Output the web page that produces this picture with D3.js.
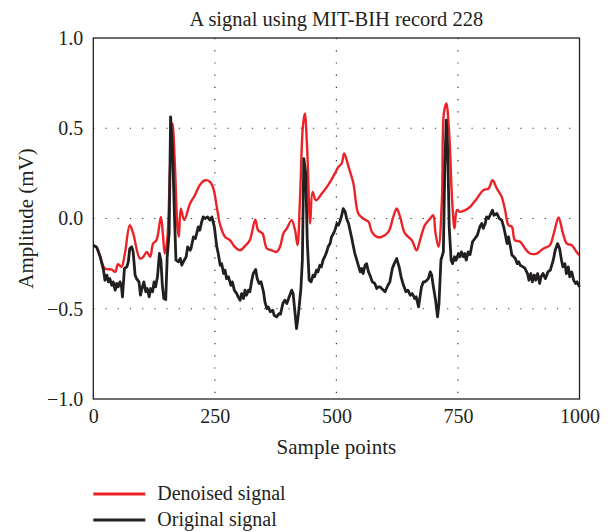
<!DOCTYPE html>
<html>
<head>
<meta charset="utf-8">
<script src="https://cdn.jsdelivr.net/npm/d3@7"></script>
<style>
  body { margin: 0; background: #fff; }
  text { font-family: "Liberation Serif", "DejaVu Serif", serif; fill: #231f20; }
</style>
</head>
<body>
<div id="chart"></div>
<script>
// sample index / amplitude (mV)
const denoisedX = [0,7,14,24,38,45,51,58,65,75,82,96,103,110,117,123,130,139,143,147,152,158,163,168,173,176,180,187,199,209,219,230,240,247,254,261,271,281,291,302,312,322,333,339,348,357,367,377,384,391,398,408,415,420,425,431,435,440,446,451,458,470,483,495,504,511,516,525,535,545,555,566,573,583,593,607,617,624,631,641,655,665,672,682,693,699,704,710,717,721,726,732,738,743,748,754,765,775,789,802,813,821,830,840,847,854,861,867,878,888,898,912,926,939,948,957,966,974,984,994,1000];
const denoisedY = [-0.148,-0.16,-0.21,-0.277,-0.283,-0.296,-0.253,-0.268,-0.194,-0.037,-0.083,-0.222,-0.212,-0.185,-0.212,-0.139,-0.12,0.009,-0.083,-0.194,-0.12,0.286,0.526,0.286,-0.046,-0.102,0.055,-0.009,0.083,0.129,0.185,0.212,0.203,0.166,0.064,-0.037,-0.102,-0.12,-0.157,-0.176,-0.153,-0.12,-0.006,-0.065,-0.083,-0.166,-0.176,-0.185,-0.157,-0.083,-0.055,-0.009,-0.065,-0.148,0.101,0.508,0.582,0.378,-0.028,0.147,0.101,0.138,0.185,0.24,0.286,0.305,0.36,0.286,0.194,0.028,0,-0.018,-0.074,-0.102,-0.102,-0.074,0.009,0.055,0.009,-0.083,-0.12,-0.176,-0.12,-0.037,0,0.018,-0.083,-0.157,0.101,0.582,0.637,0.471,0.101,-0.055,0.046,0.037,0.046,0.065,0.111,0.157,0.166,0.212,0.166,0.12,0.046,-0.037,-0.046,-0.12,-0.129,-0.166,-0.194,-0.194,-0.166,-0.148,-0.074,0.006,-0.083,-0.139,-0.148,-0.185,-0.203];

const originalX = [0,7,14,21,24,28,31,34,38,41,45,48,51,55,58,60,64,69,72,75,79,82,86,89,94,97,101,104,108,111,115,118,122,125,128,132,136,139,142,145,149,152,156,159,163,167,170,175,179,182,187,191,194,199,201,206,210,216,219,223,226,230,235,240,244,249,254,257,261,264,268,271,274,278,283,286,290,295,298,302,305,309,312,315,319,322,326,329,334,337,341,345,350,353,357,360,364,369,372,377,382,385,390,394,398,403,408,411,415,418,422,427,430,433,437,440,444,448,452,455,459,462,466,469,473,476,480,483,487,490,494,497,501,504,507,511,514,518,521,525,528,531,535,538,542,549,552,555,559,562,566,569,574,579,583,586,590,593,600,606,610,615,619,624,629,633,638,643,647,652,656,661,664,669,672,675,679,682,686,689,693,696,699,704,708,711,715,720,723,726,729,732,736,739,743,746,751,754,757,761,764,767,771,775,780,785,790,795,799,802,806,809,813,816,821,824,830,835,840,844,847,851,854,858,861,865,868,872,875,878,884,888,893,896,900,903,907,910,914,918,921,925,930,935,940,946,950,955,959,963,966,970,973,977,980,984,988,992,995,1000];
const originalY = [-0.148,-0.16,-0.21,-0.286,-0.342,-0.314,-0.351,-0.333,-0.37,-0.351,-0.397,-0.36,-0.379,-0.351,-0.379,-0.434,-0.277,-0.268,-0.24,-0.166,-0.157,-0.185,-0.314,-0.333,-0.351,-0.425,-0.379,-0.351,-0.406,-0.388,-0.434,-0.388,-0.406,-0.351,-0.379,-0.323,-0.194,-0.231,-0.37,-0.443,-0.449,-0.212,-0.083,0.563,0.378,0.009,-0.231,-0.24,-0.222,-0.259,-0.231,-0.212,-0.157,-0.176,-0.166,-0.102,-0.111,-0.046,-0.065,-0.018,0.009,0,0.009,-0.009,0.009,-0.046,-0.157,-0.194,-0.259,-0.25,-0.305,-0.286,-0.333,-0.323,-0.37,-0.351,-0.397,-0.416,-0.434,-0.453,-0.416,-0.443,-0.397,-0.425,-0.397,-0.406,-0.342,-0.305,-0.282,-0.333,-0.36,-0.351,-0.406,-0.462,-0.499,-0.49,-0.517,-0.508,-0.536,-0.545,-0.527,-0.53,-0.47,-0.453,-0.471,-0.434,-0.397,-0.416,-0.527,-0.61,-0.527,-0.388,-0.231,0.332,0.249,-0.12,-0.342,-0.351,-0.314,-0.323,-0.286,-0.296,-0.259,-0.268,-0.227,-0.212,-0.185,-0.157,-0.139,-0.102,-0.083,-0.065,-0.028,-0.037,-0.018,0.018,0.055,0.037,0,-0.028,-0.065,-0.102,-0.157,-0.194,-0.231,-0.296,-0.277,-0.305,-0.259,-0.25,-0.296,-0.314,-0.351,-0.36,-0.388,-0.379,-0.379,-0.388,-0.406,-0.37,-0.351,-0.277,-0.25,-0.222,-0.268,-0.323,-0.37,-0.406,-0.397,-0.425,-0.416,-0.443,-0.434,-0.49,-0.434,-0.379,-0.351,-0.351,-0.342,-0.333,-0.296,-0.314,-0.37,-0.453,-0.545,-0.471,-0.231,-0.185,0.286,0.545,0.378,-0.046,-0.231,-0.25,-0.212,-0.231,-0.194,-0.212,-0.185,-0.212,-0.194,-0.231,-0.185,-0.2,-0.129,-0.111,-0.092,-0.046,-0.028,-0.055,-0.028,0.009,0,0.018,0.046,0.018,0.028,0,-0.009,-0.046,-0.083,-0.139,-0.102,-0.157,-0.203,-0.212,-0.222,-0.25,-0.24,-0.259,-0.268,-0.277,-0.305,-0.342,-0.305,-0.351,-0.314,-0.342,-0.305,-0.36,-0.323,-0.305,-0.333,-0.296,-0.286,-0.231,-0.176,-0.139,-0.166,-0.231,-0.268,-0.25,-0.305,-0.268,-0.323,-0.296,-0.342,-0.36,-0.351,-0.379];

const xTicks = [0, 250, 500, 750, 1000];
const yTicks = [-1.0, -0.5, 0.0, 0.5, 1.0];
const seriesNames = ["Denoised signal", "Original signal"];
const seriesColors = ["#ec2227", "#231f20"];

const width = 610, height = 532;
const margin = {top: 38, right: 30.5, bottom: 133, left: 93.3};
const w = width - margin.left - margin.right;
const h = height - margin.top - margin.bottom;

const svg = d3.select("#chart").append("svg")
    .attr("width", width)
    .attr("height", height);

const g = svg.append("g")
    .attr("transform", `translate(${margin.left},${margin.top})`);

const x = d3.scaleLinear().domain([0, 1000]).range([0, w]);
const y = d3.scaleLinear().domain([-1, 1]).range([h, 0]);

// dotted grid
g.selectAll("line.vgrid")
    .data(xTicks.slice(1, -1))
    .join("line")
    .attr("x1", d => x(d)).attr("x2", d => x(d))
    .attr("y1", 0).attr("y2", h)
    .attr("stroke", "#333")
    .attr("stroke-width", 1.2)
    .attr("stroke-dasharray", "1.2,11");

g.selectAll("line.hgrid")
    .data(yTicks.slice(1, -1))
    .join("line")
    .attr("x1", 0).attr("x2", w)
    .attr("y1", d => y(d)).attr("y2", d => y(d))
    .attr("stroke", "#333")
    .attr("stroke-width", 1.2)
    .attr("stroke-dasharray", "1.2,11");

const fmtY = d => d3.format(".1f")(d).replace("-", "\u2212");

g.append("g")
    .attr("transform", `translate(0,${h})`)
    .call(d3.axisBottom(x).tickValues(xTicks).tickFormat(d3.format("d")).tickSize(0).tickPadding(10))
    .call(a => a.select(".domain").remove())
    .selectAll("text")
    .style("font-size", "20px")
    .style("font-family", "Liberation Serif, serif")
    .attr("fill", "#231f20");

g.append("g")
    .call(d3.axisLeft(y).tickValues(yTicks).tickFormat(fmtY).tickSize(0).tickPadding(10))
    .call(a => a.select(".domain").remove())
    .selectAll("text")
    .style("font-size", "20px")
    .style("font-family", "Liberation Serif, serif")
    .attr("fill", "#231f20");

const denoised = denoisedX.map((d, i) => [d, denoisedY[i]]);
const original = originalX.map((d, i) => [d, originalY[i]]);

g.append("path")
    .datum(denoised)
    .attr("fill", "none")
    .attr("stroke", seriesColors[0])
    .attr("stroke-width", 2.4)
    .attr("stroke-linejoin", "round")
    .attr("d", d3.line().x(d => x(d[0])).y(d => y(d[1])).curve(d3.curveCatmullRom.alpha(0.5)));

g.append("path")
    .datum(original)
    .attr("fill", "none")
    .attr("stroke", seriesColors[1])
    .attr("stroke-width", 2.8)
    .attr("stroke-linejoin", "round")
    .attr("d", d3.line().x(d => x(d[0])).y(d => y(d[1])));

// frame
g.append("rect")
    .attr("width", w).attr("height", h)
    .attr("fill", "none")
    .attr("stroke", "#231f20")
    .attr("stroke-width", 1.3);

svg.append("text")
    .attr("x", margin.left + w / 2)
    .attr("y", 26)
    .attr("text-anchor", "middle")
    .style("font-size", "20.5px")
    .text("A signal using MIT-BIH record 228");

svg.append("text")
    .attr("x", margin.left + w / 2)
    .attr("y", height - margin.bottom + 55)
    .attr("text-anchor", "middle")
    .style("font-size", "21px")
    .text("Sample points");

svg.append("text")
    .attr("transform", `translate(33,${margin.top + h / 2}) rotate(-90)`)
    .attr("text-anchor", "middle")
    .style("font-size", "21px")
    .text("Amplitude (mV)");

const legend = svg.append("g")
    .attr("transform", `translate(${margin.left},${height - 38})`);

const item = legend.selectAll("g")
    .data(seriesNames)
    .join("g")
    .attr("transform", (d, i) => `translate(0,${i * 26})`);

item.append("line")
    .attr("x1", 0).attr("x2", 52)
    .attr("stroke", (d, i) => seriesColors[i])
    .attr("stroke-width", 2.8);

item.append("text")
    .attr("x", 64)
    .attr("dy", "0.3em")
    .style("font-size", "20px")
    .text(d => d);
</script>
</body>
</html>
